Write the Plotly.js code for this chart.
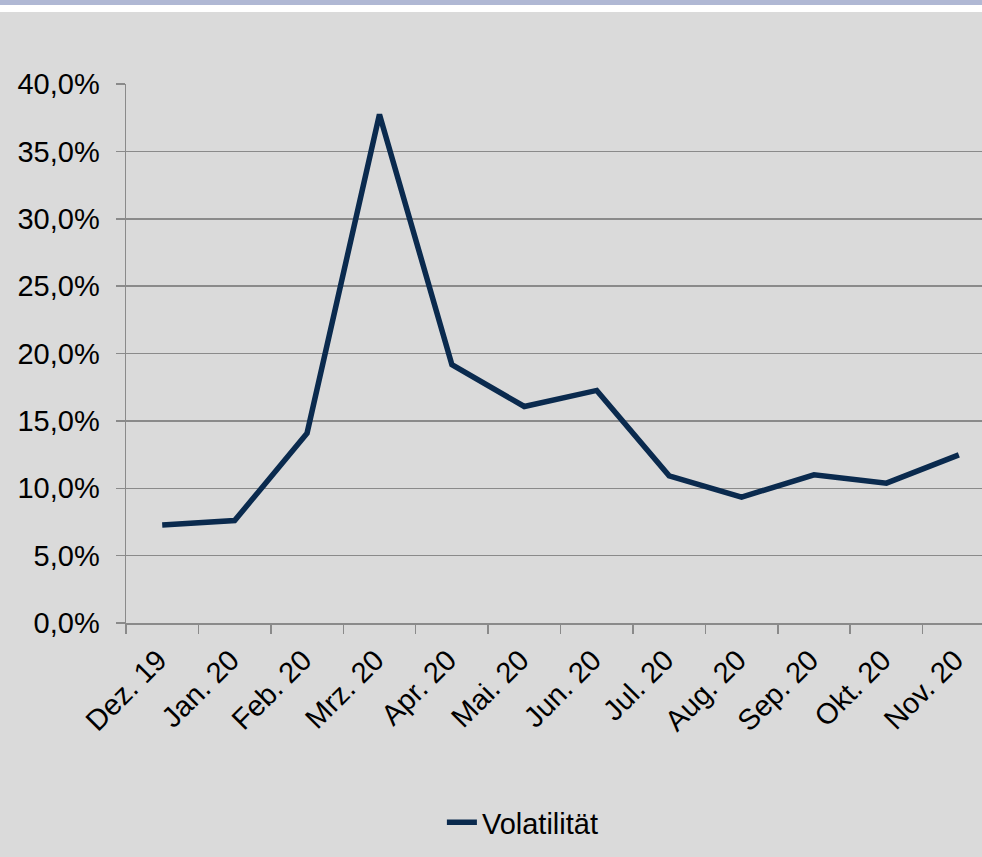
<!DOCTYPE html>
<html>
<head>
<meta charset="utf-8">
<script src="https://cdn.plot.ly/plotly-3.0.1.min.js"></script>
<style>
  html, body { margin: 0; padding: 0; background: #dadada; width: 982px; height: 857px; overflow: hidden; }
  #strip1 { height: 5px; background: #b0b8d4; }
  #strip2 { height: 7px; background: #ffffff; }
  #chart { width: 982px; height: 845px; }
</style>
</head>
<body>
<div id="strip1"></div>
<div id="strip2"></div>
<div id="chart"></div>
<script>
const categories = ["Dez. 19", "Jan. 20", "Feb. 20", "Mrz. 20", "Apr. 20", "Mai. 20", "Jun. 20", "Jul. 20", "Aug. 20", "Sep. 20", "Okt. 20", "Nov. 20"];
const volatilitaet = [0.0728, 0.076, 0.1409, 0.3774, 0.1917, 0.1607, 0.1726, 0.1092, 0.0934, 0.110, 0.1038, 0.1248];
const seriesName = "Volatilität";
const yTicks = [0, 0.05, 0.10, 0.15, 0.20, 0.25, 0.30, 0.35, 0.40];

const font = { family: "Liberation Sans, Arial, sans-serif", size: 29, color: "#000000" };
const axisColor = "#8a8a8a";

const trace = {
  type: "scatter",
  mode: "lines",
  x: categories,
  y: volatilitaet,
  name: seriesName,
  line: { color: "#0a2a4e", width: 5.5 },
  showlegend: true,
  hoverinfo: "skip"
};

const layout = {
  width: 982,
  height: 845,
  paper_bgcolor: "#dadada",
  plot_bgcolor: "#dadada",
  separators: ",.",
  font: font,
  margin: { l: 126, r: 0, t: 72, b: 234, pad: 0 },
  xaxis: {
    type: "category",
    range: [-0.5, 11.32],
    showgrid: false,
    showline: true,
    linecolor: axisColor,
    linewidth: 1.5,
    ticks: "outside",
    tickson: "boundaries",
    ticklen: 9,
    tickwidth: 1.5,
    tickcolor: axisColor,
    tickangle: -45,
    tickfont: font,
    ticklabelstandoff: 7,
    ticklabelshift: -4,
    zeroline: false,
    fixedrange: true
  },
  yaxis: {
    range: [0, 0.40],
    tickvals: yTicks,
    tickformat: ".1%",
    showgrid: true,
    gridcolor: axisColor,
    gridwidth: 1.5,
    showline: true,
    linecolor: axisColor,
    linewidth: 1.5,
    ticks: "outside",
    ticklen: 9,
    tickwidth: 1.5,
    tickcolor: axisColor,
    tickfont: font,
    ticklabelstandoff: 10,
    zeroline: false,
    fixedrange: true
  },
  showlegend: true,
  legend: {
    orientation: "h",
    xref: "container",
    yref: "container",
    x: 0.45,
    y: 0.041,
    xanchor: "left",
    yanchor: "middle",
    bgcolor: "rgba(0,0,0,0)",
    font: font
  }
};

Plotly.newPlot("chart", [trace], layout, { displayModeBar: false, staticPlot: true });
</script>
</body>
</html>
